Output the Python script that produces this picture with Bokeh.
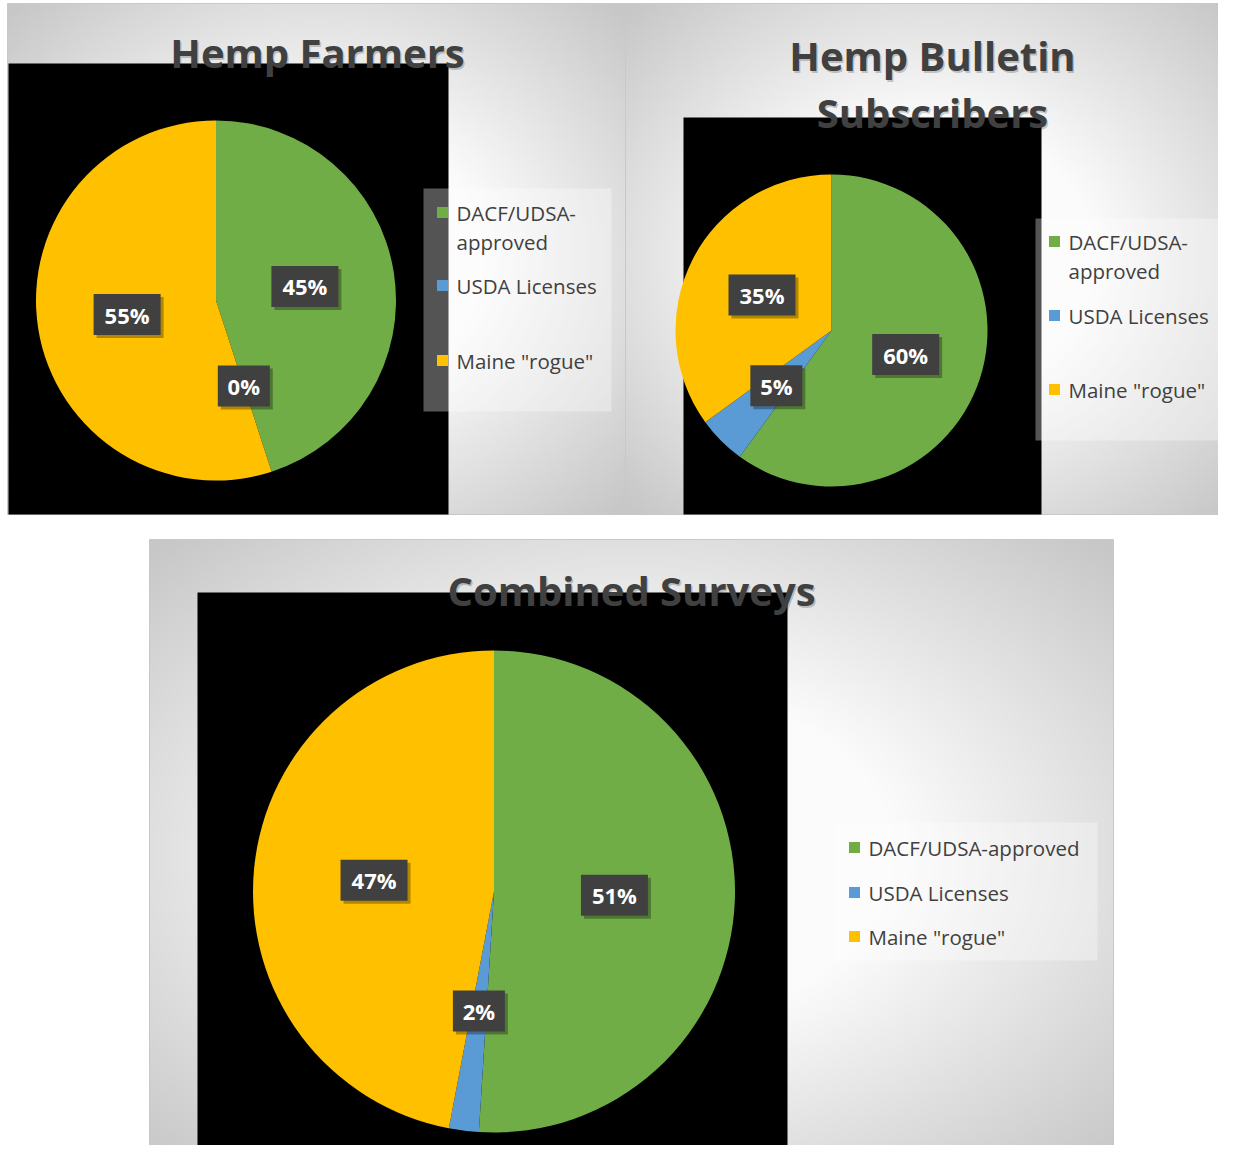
import numpy as np
from bokeh.plotting import figure
from bokeh.models import Range1d, ColumnDataSource
from bokeh.core.properties import value
from bokeh.embed import file_html
from bokeh.resources import INLINE

# ---------------- data ----------------
categories = ["DACF/UDSA-approved", "USDA Licenses", 'Maine "rogue"']
slice_colors = ["#70AD47", "#5B9BD5", "#FFC000"]
farmers = [45, 0, 55]
bulletin = [60, 5, 35]
combined = [51, 2, 47]
title_farmers = ["Hemp Farmers"]
title_bulletin = ["Hemp Bulletin", "Subscribers"]
title_combined = ["Combined Surveys"]

# ---------------- layout (image pixel coords) ----------------
W, H = 1218, 1145


def X(x):
    return x


def Y(y):
    return H - y


panels = [
    dict(values=farmers, title=title_farmers, box=(7, 3, 625, 514), black=(8, 63, 448, 514),
         center=(215.5, 300), r=180, title_x=317, title_y=[52],
         legend_box=(423, 188, 611, 411), sq_x=442, text_x=456, item_y=[212, 285, 360], wrap=True),
    dict(values=bulletin, title=title_bulletin, box=(625, 3, 1233, 514), black=(683, 117, 1041, 514),
         center=(831, 330), r=156, title_x=932, title_y=[55, 112],
         legend_box=(1035, 218, 1222, 440), sq_x=1054, text_x=1068, item_y=[241, 315, 389], wrap=True),
    dict(values=combined, title=title_combined, box=(149, 539, 1113, 1170), black=(197, 592, 787, 1170),
         center=(493.5, 891), r=241, title_x=631, title_y=[590],
         legend_box=(835, 822, 1097, 960), sq_x=854, text_x=868, item_y=[847, 892, 936], wrap=False),
]

p = figure(width=W, height=H, x_range=Range1d(0, W), y_range=Range1d(0, H),
           output_backend="svg", toolbar_location=None,
           x_axis_type=None, y_axis_type=None, min_border=0)
p.grid.visible = False
p.outline_line_color = None
p.background_fill_color = "white"
p.border_fill_color = "white"


def gradient(w, h, step=3):
    nx, ny = max(2, int(w / step)), max(2, int(h / step))
    gx, gy = np.meshgrid(np.linspace(-1, 1, nx), np.linspace(-1, 1, ny))
    r = np.sqrt(gx ** 2 + gy ** 2)
    t = np.clip((r - 0.55) / 0.85, 0, 1)
    g = (251 - 52 * t).astype(np.uint8)
    img = np.empty((ny, nx), dtype=np.uint32)
    v = img.view(dtype=np.uint8).reshape((ny, nx, 4))
    v[..., 0] = g
    v[..., 1] = g
    v[..., 2] = g
    v[..., 3] = 255
    return img


FONT = value("Open Sans")

for pn in panels:
    x0, y0, x1, y1 = pn["box"]
    # background gradient + border
    p.image_rgba(image=[gradient(x1 - x0, y1 - y0)], x=X(x0), y=Y(y1), dw=x1 - x0, dh=y1 - y0)
    p.quad(left=X(x0), right=X(x1), top=Y(y0), bottom=Y(y1), fill_color=None,
           line_color="#c8c8c8", line_width=1)
    # black plot area
    bx0, by0, bx1, by1 = pn["black"]
    p.quad(left=X(bx0), right=X(bx1), top=Y(by0), bottom=Y(by1), fill_color="black", line_color=None)

    # title
    for line, ty in zip(pn["title"], pn["title_y"]):
        p.text(x=[X(pn["title_x"]) + 1.5], y=[Y(ty) - 2], text=[line], text_font=FONT,
               text_font_style="bold", text_font_size="40px", text_color="black", text_alpha=0.2,
               text_align="center", text_baseline="middle")
        p.text(x=[X(pn["title_x"])], y=[Y(ty)], text=[line], text_font=FONT,
               text_font_style="bold", text_font_size="40px", text_color="#404040",
               text_align="center", text_baseline="middle")

    # pie
    cx, cy = X(pn["center"][0]), Y(pn["center"][1])
    R = pn["r"]
    vals = pn["values"]
    total = float(sum(vals))
    cum = 0.0
    starts, ends, cols, lx, ly, labels = [], [], [], [], [], []
    for v, c in zip(vals, slice_colors):
        a0 = 2 * np.pi * cum / total
        a1 = 2 * np.pi * (cum + v) / total
        if v > 0:
            starts.append(np.pi / 2 - a0)
            ends.append(np.pi / 2 - a1)
            cols.append(c)
        mid = (a0 + a1) / 2
        lx.append(cx + 0.5 * R * np.sin(mid))
        ly.append(cy + 0.5 * R * np.cos(mid))
        labels.append(f"{v}%")
        cum += v
    src = ColumnDataSource(dict(start=starts, end=ends, color=cols))
    p.wedge(x=cx, y=cy, radius=R, start_angle="start", end_angle="end", direction="clock",
            fill_color="color", line_color=None, source=src)

    # data labels
    widths = [22 + 15 * len(t) for t in labels]
    p.rect(x=[x + 3 for x in lx], y=[y - 3 for y in ly], width=widths, height=41,
           fill_color="black", fill_alpha=0.3, line_color=None)
    p.rect(x=lx, y=ly, width=widths, height=41, fill_color="#404040", line_color=None)
    p.text(x=lx, y=ly, text=labels, text_font=FONT, text_font_style="bold",
           text_font_size="22px", text_color="white", text_align="center", text_baseline="middle")

    # legend
    lx0, ly0, lx1, ly1 = pn["legend_box"]
    p.quad(left=X(lx0), right=X(lx1), top=Y(ly0), bottom=Y(ly1), fill_color="white",
           fill_alpha=0.33, line_color=None)
    for cat, col, iy in zip(categories, slice_colors, pn["item_y"]):
        p.rect(x=[X(pn["sq_x"])], y=[Y(iy)], width=11, height=11, fill_color=col, line_color=None)
        if pn["wrap"] and "-" in cat:
            k = cat.index("-") + 1
            lines = [cat[:k], cat[k:]]
        else:
            lines = [cat]
        for j, ln in enumerate(lines):
            p.text(x=[X(pn["text_x"])], y=[Y(iy + 29 * j)], text=[ln], text_font=FONT,
                   text_font_size="20.5px", text_color="#404040", text_align="left",
                   text_baseline="middle")

open("out.html", "w").write(file_html(p, INLINE))
